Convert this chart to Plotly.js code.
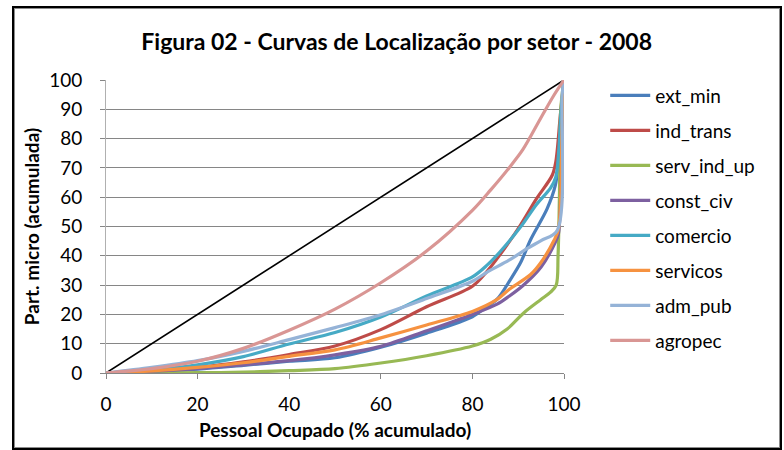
<!DOCTYPE html>
<html>
<head>
<meta charset="utf-8">
<script src="https://cdn.plot.ly/plotly-3.0.1.min.js"></script>
<style>
  html, body { margin: 0; padding: 0; background: #ffffff; }
  #wrap { position: relative; width: 784px; height: 450px; }
  #chart { position: absolute; left: 0; top: 0; width: 784px; height: 450px; }
  #frame { position: absolute; left: 12px; top: 6px; width: 770px; height: 444px;
           box-sizing: border-box; border: 2px solid #000; box-shadow: inset 1px 1px 0 0 #8c8c8c, inset -1px -1px 0 0 #8c8c8c;
           pointer-events: none; }
</style>
</head>
<body>
<div id="wrap">
  <div id="chart"></div>
  <div id="frame"></div>
</div>
<script>
// ---- data ----
const seriesNames = ["ext_min", "ind_trans", "serv_ind_up", "const_civ", "comercio", "servicos", "adm_pub", "agropec"];

const equalityX = [0, 100];
const equalityY = [0, 100];

const extMinX = [0, 10, 20, 30, 40, 50, 60, 70, 80, 83, 85.4, 88.3, 90.5, 92.7, 96.3, 98.1, 99.3, 100];
const extMinY = [0, 0.5, 1.3, 2.6, 4.0, 5.2, 8.8, 13.6, 19.2, 22.5, 25.2, 31.9, 37.6, 45.5, 56, 64, 80, 100];

const indTransX = [0, 10, 20, 30, 40, 50, 60, 70, 80, 83.2, 86, 90.5, 94, 97.4, 98.2, 99.2, 100];
const indTransY = [0, 0.7, 1.9, 3.8, 6.3, 9.2, 14.8, 22.6, 29.6, 34.7, 40.3, 50.5, 59.5, 67.4, 72, 88, 100];

const servIndUpX = [0, 10, 20, 30, 40, 50, 60, 70, 80, 84, 87.6, 91.2, 94.9, 97, 98.3, 98.7, 99, 99.3, 100];
const servIndUpY = [0, 0, 0.1, 0.3, 0.8, 1.5, 3.4, 5.9, 9.2, 11.5, 15, 20.5, 25, 27.5, 30, 40, 60, 90, 100];

const constCivX = [0, 10, 20, 30, 40, 50, 60, 70, 80, 85.4, 88, 91, 95, 98.1, 98.8, 99.6, 100];
const constCivY = [0, 0.6, 1.5, 2.8, 4.2, 6.2, 9.1, 14.4, 20, 23.5, 26.2, 29.8, 36.2, 44.6, 47.6, 85, 100];

const comercioX = [0, 10, 20, 30, 40, 50, 60, 70, 80, 83.2, 86, 90.5, 94, 97, 98.2, 99.4, 100];
const comercioY = [0, 1, 2.8, 5.6, 9.9, 13.8, 19.1, 26.3, 32.8, 36.8, 41.3, 49.8, 57.5, 63, 66.8, 90, 100];

const servicosX = [0, 10, 20, 30, 40, 50, 60, 70, 80, 85.4, 88, 92.7, 95, 97.8, 98.8, 99.6, 100];
const servicosY = [0, 0.7, 1.9, 3.5, 5.7, 7.9, 12, 16.4, 21, 25.1, 28.5, 33.6, 37.8, 45.2, 49.2, 85, 100];

const admPubX = [0, 10, 20, 30, 40, 50, 60, 70, 80, 83.2, 88, 92, 95, 98.5, 99.6, 100];
const admPubY = [0, 1.9, 4.2, 7.4, 11.4, 15.5, 19.9, 25.4, 31.3, 34.4, 38.5, 42.5, 45.2, 48.6, 95, 100];

const agropecX = [0, 10, 20, 30, 40, 50, 60, 70, 80, 84, 88, 91, 95, 97.8, 100];
const agropecY = [0, 1.5, 4, 8.4, 14.6, 21.8, 30.8, 41.6, 55.5, 62.5, 70, 76.2, 87.2, 94.8, 100];

const xTickVals = [0, 20, 40, 60, 80, 100];
const yTickVals = [0, 10, 20, 30, 40, 50, 60, 70, 80, 90, 100];

// ---- styles ----
const seriesColors = ["#4A7EBB", "#BE4B48", "#98B954", "#7D60A0", "#46AAC5", "#F69240", "#95B3D7", "#D99694"];
const xs = [extMinX, indTransX, servIndUpX, constCivX, comercioX, servicosX, admPubX, agropecX];
const ys = [extMinY, indTransY, servIndUpY, constCivY, comercioY, servicosY, admPubY, agropecY];

const FONT = "Lato, Carlito, Calibri, 'Open Sans', sans-serif";

const traces = [{
  x: equalityX, y: equalityY, mode: "lines", showlegend: false,
  line: { color: "#000000", width: 1.6 }, hoverinfo: "skip"
}];
seriesNames.forEach((name, i) => {
  traces.push({
    x: xs[i], y: ys[i], name: name, mode: "lines", legendgroup: "g" + i,
    line: { color: seriesColors[i], width: 3.2, shape: "spline", smoothing: 0.9 }
  });
});

const layout = {
  width: 784, height: 450,
  margin: { l: 106, r: 220, t: 80, b: 77, autoexpand: false },
  paper_bgcolor: "#ffffff", plot_bgcolor: "#ffffff",
  font: { family: FONT, size: 19, color: "#000000" },
  title: {
    text: "Figura 02 - Curvas de Localização por setor - 2008",
    font: { family: FONT, size: 23, color: "#000000", weight: "bold" },
    x: 0.506, xref: "container", xanchor: "center",
    y: 0.907, yref: "container", yanchor: "middle"
  },
  xaxis: {
    range: [0, 100], tickvals: xTickVals, ticktext: xTickVals.map(String),
    ticks: "outside", ticklen: 5, tickcolor: "#868686", tickwidth: 1,
    showline: true, linecolor: "#868686", linewidth: 1,
    showgrid: false, zeroline: false, automargin: false,
    tickfont: { family: FONT, size: 19, color: "#000" },
    ticklabelstandoff: 9,
    title: { text: "Pessoal Ocupado (% acumulado)", standoff: 9,
             font: { family: FONT, size: 19, color: "#000", weight: "bold" } }
  },
  yaxis: {
    range: [0, 100], tickvals: yTickVals, ticktext: yTickVals.map(String),
    ticks: "outside", ticklen: 5, tickcolor: "#868686", tickwidth: 1,
    showline: true, linecolor: "#b0b0b0", linewidth: 1,
    showgrid: true, gridcolor: "#868686", gridwidth: 1,
    zeroline: false, automargin: false,
    tickfont: { family: FONT, size: 19, color: "#000" },
    ticklabelstandoff: 14,
    title: { text: "Part. micro (acumulada)", standoff: 4,
             font: { family: FONT, size: 19, color: "#000", weight: "bold" } }
  },
  legend: {
    x: 1.09, xanchor: "left", y: 1.012, yanchor: "top",
    font: { family: FONT, size: 19, color: "#000" },
    bgcolor: "rgba(0,0,0,0)", borderwidth: 0,
    tracegroupgap: 7.3, itemwidth: 40, maxheight: 440
  },
  showlegend: true
};

Plotly.newPlot("chart", traces, layout, { staticPlot: true, displayModeBar: false });
</script>
</body>
</html>
